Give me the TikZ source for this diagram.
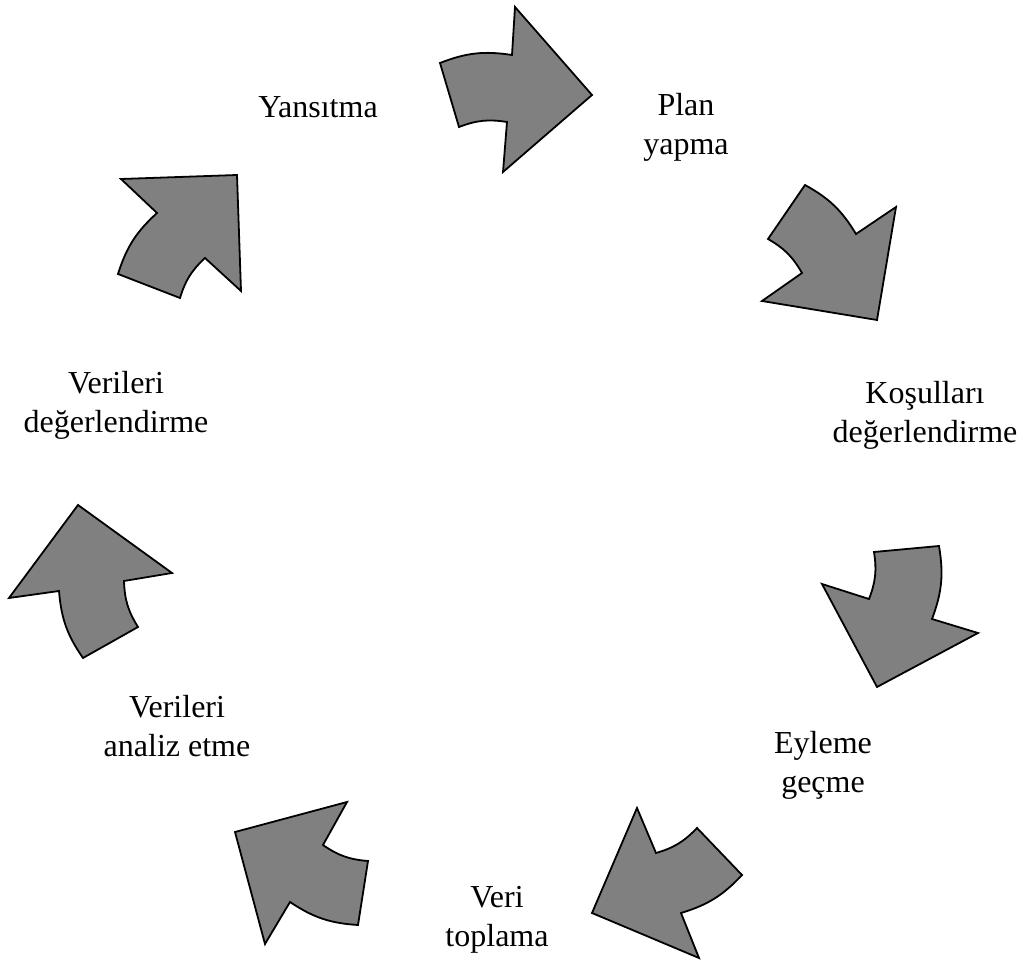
\documentclass[tikz,border=0pt]{standalone}
\usepackage{fontspec}
\setmainfont{Liberation Serif}
\usepackage{tikz}
\usetikzlibrary{positioning}
\definecolor{CycleGray}{HTML}{808080}
\definecolor{CycleInk}{HTML}{000000}

\begin{document}
\begin{tikzpicture}[x=0.5pt,y=-0.5pt,
    cyclearrow/.style={fill=CycleGray,draw=CycleInk,line width=0.9pt,line join=miter},
    steplabel/.style={align=center,inner sep=0pt,anchor=base,font=\fontsize{16}{19.5}\selectfont}]
  \useasboundingbox (0,0) rectangle (1023,962);
  % labels (base = last line)
  \node[steplabel] (yansitma) at (318,118) {Yansıtma};
  \node[steplabel] (plan) at (686,155) {Plan\\yapma};
  \node[steplabel] (kosul) at (925,443) {Koşulları\\değerlendirme};
  \node[steplabel] (eylem) at (823,792) {Eyleme\\geçme};
  \node[steplabel] (veri) at (497,946) {Veri\\toplama};
  \node[steplabel] (analiz) at (177,756) {Verileri\\analiz etme};
  \node[steplabel] (degerlendir) at (116,433) {Verileri\\değerlendirme};
  % arrows, clockwise
  \draw[cyclearrow] (440,63) to[bend left=15] (512,55) -- (515,7) -- (592,95)
    -- (503,172) -- (507,122) to[bend right=15] (459,127) -- cycle;
  \draw[cyclearrow] (805,185) to[bend left=15] (856,234) -- (896,207) -- (877,320)
    -- (762,301) -- (802,273) to[bend right=15] (768,239) -- cycle;
  \draw[cyclearrow] (939,546) to[bend left=15] (932,619) -- (978,633) -- (877,687)
    -- (822,584) -- (869,599) to[bend right=15] (874,552) -- cycle;
  \draw[cyclearrow] (742,875) to[bend left=15] (681,913) -- (699,958) -- (592,913)
    -- (637,808) -- (656,853) to[bend right=15] (697,828) -- cycle;
  \draw[cyclearrow] (358,925) to[bend left=15] (290,902) -- (265,944) -- (235,832)
    -- (347,802) -- (323,845) to[bend right=15] (368,861) -- cycle;
  \draw[cyclearrow] (83,658) to[bend left=15] (59,591) -- (9,598) -- (78,505)
    -- (172,573) -- (124,581) to[bend right=15] (138,627) -- cycle;
  \draw[cyclearrow] (118,274) to[bend left=15] (157,213) -- (121,179) -- (237,175)
    -- (241,291) -- (205,258) to[bend right=15] (180,298) -- cycle;
\end{tikzpicture}
\end{document}
